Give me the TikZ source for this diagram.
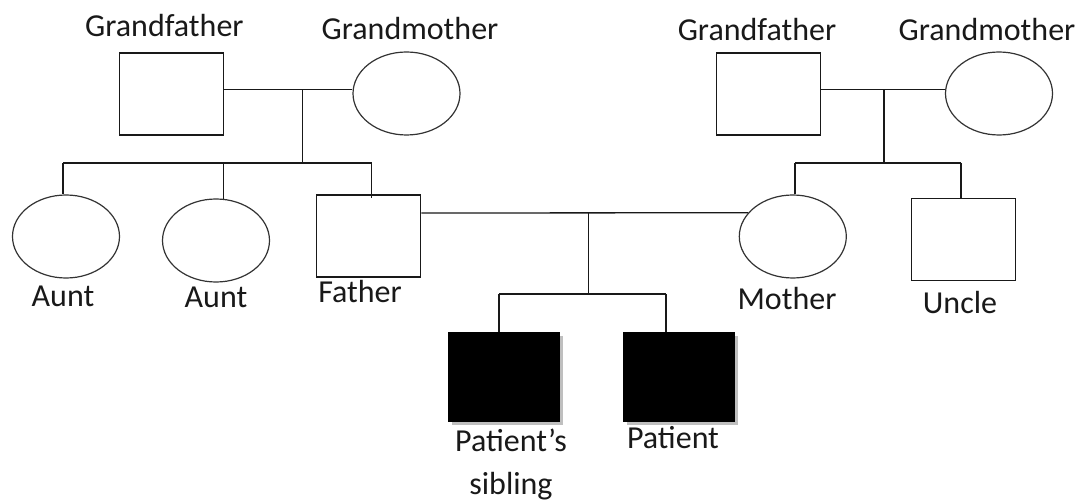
\documentclass[tikz,border=0pt]{standalone}
\usepackage{fontspec}
\setmainfont{Carlito}
\usetikzlibrary{shapes.geometric,shadows}
\begin{document}
\begin{tikzpicture}[x=1pt,y=-1pt,
  male/.style={draw=black!90,line width=1.3pt,rectangle,minimum width=104pt,minimum height=82pt,inner sep=0pt},
  female/.style={draw=black!80,line width=1.2pt,ellipse,minimum width=107pt,minimum height=83pt,inner sep=0pt},
  affected/.style={rectangle,fill=black,draw=black,line width=1pt,minimum width=111pt,minimum height=89pt,inner sep=0pt,
    drop shadow={shadow xshift=3pt,shadow yshift=-3pt,fill=black!25,opacity=1}},
  lbl/.style={anchor=base,inner sep=0pt,font=\fontsize{32}{44}\selectfont,text=black!90},
  link/.style={line width=1.3pt,draw=black!90}]
\useasboundingbox[fill=white] (0,0) rectangle (1078,502);
% people
\node[male] (gf1) at (171.5,94) {};
\node[female] (gm1) at (406.5,93.5) {};
\node[male] (gf2) at (768.3,94) {};
\node[female] (gm2) at (999,93.5) {};
\node[female] (aunt1) at (66,236.5) {};
\node[female] (aunt2) at (216,240.5) {};
\node[male] (father) at (368.7,236) {};
\node[female] (mother) at (792.8,236.5) {};
\node[male] (uncle) at (963.7,239.5) {};
\node[affected] (sib) at (504,377) {};
\node[affected] (pat) at (679,377) {};
% labels
\node[lbl] (tgf1) at (164.4,37) {Grandfather};
\node[lbl] (tgm1) at (410,39.5) {Grandmother};
\node[lbl] (tgf2) at (757,41) {Grandfather};
\node[lbl] (tgm2) at (987,41) {Grandmother};
\node[lbl] (taunt1) at (63,307) {Aunt};
\node[lbl] (taunt2) at (216,308) {Aunt};
\node[lbl] (tfather) at (360,303) {Father};
\node[lbl] (tmother) at (787,309) {Mother};
\node[lbl] (tuncle) at (960,313) {Uncle};
\node[lbl] (tsib1) at (511,451) {Patient’s};
\node[lbl] (tsib2) at (511,494) {sibling};
\node[lbl] (tpat) at (673,448) {Patient};
% junctions
\coordinate (m1) at (302.4,89.3);
\coordinate (s1) at (302.4,163);
\coordinate (sL) at (63,163);
\coordinate (sA2) at (223.8,163);
\coordinate (sR) at (371.5,163);
\coordinate (m2) at (884,89.3);
\coordinate (s2) at (884,163);
\coordinate (sM) at (795,163);
\coordinate (sU) at (961,163);
\coordinate (fm) at (588.5,213);
\coordinate (c1) at (588.5,294);
\coordinate (cL) at (499,294);
\coordinate (cR) at (666,294);
% connectors
\draw[link] (gf1.east |- m1) -- (gm1.west |- m1);
\draw[link] (m1) -- (s1);
\draw[link] (sL) -- (sR);
\draw[link] (sL) -- (sL |- aunt1.north);
\draw[link] (sA2) -- ([yshift=-1pt]sA2 |- aunt2.north);
\draw[link] (sR) -- ([yshift=-4pt]sR |- father.north);
\draw[link] (gf2.east |- m2) -- (gm2.west |- m2);
\draw[link] (m2) -- (s2);
\draw[link] (sM) -- (sU);
\draw[link] (sM) -- (sM |- mother.north);
\draw[link] (sU) -- (sU |- uncle.north);
\draw[link] (father.east |- fm) -- (mother.152);
\draw[link] (fm) -- (c1);
\draw[link] (cL) -- (cR);
\draw[link] (cL) -- (cL |- sib.north);
\draw[link] (cR) -- (cR |- pat.north);
\end{tikzpicture}
\end{document}
